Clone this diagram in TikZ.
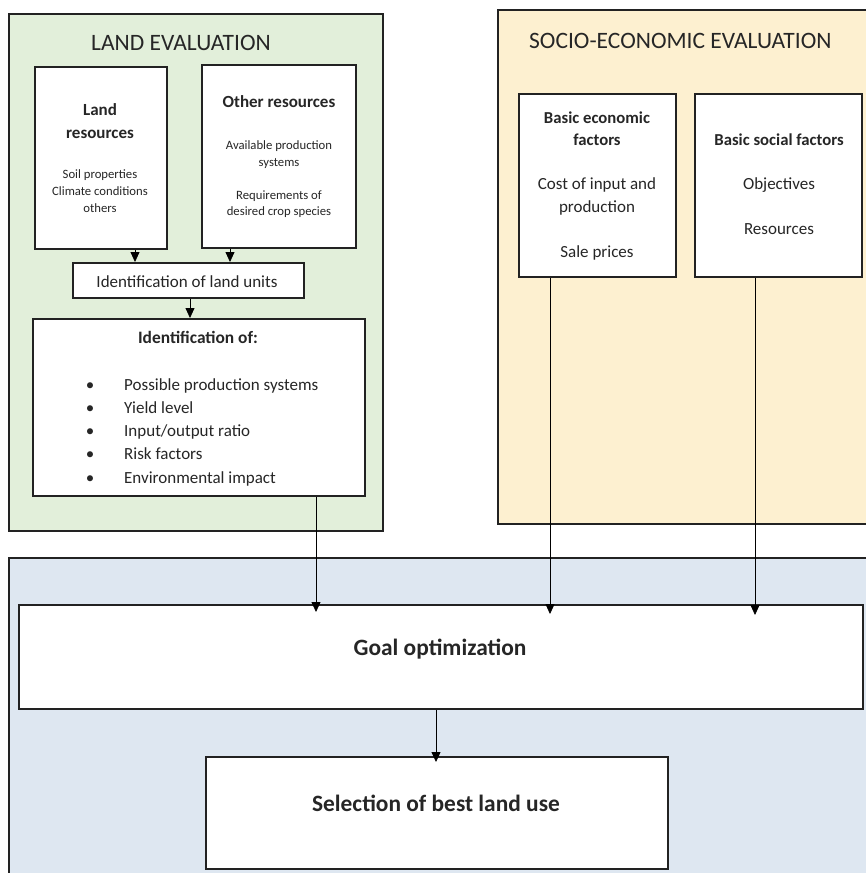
\documentclass[tikz,border=0pt]{standalone}
\usepackage{fontspec}
\setmainfont{Carlito}
\usetikzlibrary{arrows.meta}
\definecolor{landbg}{HTML}{E2EFDA}
\definecolor{sociobg}{HTML}{FDF0D0}
\definecolor{goalbg}{HTML}{DEE7F1}
\definecolor{edge}{HTML}{222222}
\newcommand{\fs}[1]{\fontsize{#1}{#1}\selectfont}
\begin{document}
\begin{tikzpicture}[x=1pt,y=-1pt,
  panel/.style={draw=edge, line width=1.6pt, anchor=north west, inner sep=0pt},
  box/.style={draw=edge, line width=1.8pt, fill=white, anchor=north west, inner sep=0pt},
  txt/.style={anchor=base, inner sep=0pt, text=black!85},
  arr/.style={-{Triangle[length=10pt,width=9pt]}, line width=0.8pt, draw=black}]
\useasboundingbox (0,0) rectangle (865,873);

% background panels
\node[panel, fill=landbg, minimum width=374pt, minimum height=517pt] (landpanel) at (8,13) {};
\node[panel, fill=sociobg, minimum width=400pt, minimum height=514pt] (sociopanel) at (497,9) {};
\node[panel, fill=goalbg, minimum width=880pt, minimum height=340pt] (goalpanel) at (8,557) {};

% panel titles
\node[txt, font=\fs{23.5}] (landtitle) at (181,50) {LAND EVALUATION};
\node[txt, anchor=base west, font=\fs{23.5}] (sociotitle) at (529,48) {SOCIO-ECONOMIC EVALUATION};

% land evaluation boxes
\node[box, minimum width=132pt, minimum height=182pt] (landres) at (34,66) {};
\node[box, minimum width=154pt, minimum height=183pt] (otherres) at (201,64) {};
\node[box, minimum width=231pt, minimum height=35pt] (landunits) at (72,262) {};
\node[box, minimum width=332pt, minimum height=177pt] (ident) at (32,318) {};

\node[txt, font=\bfseries\fs{17}] (lrt1) at (100,115) {Land};
\node[txt, font=\bfseries\fs{17}] (lrt2) at (100,138) {resources};
\node[txt, font=\fs{12.7}] (lr1) at (100,178) {Soil properties};
\node[txt, font=\fs{12.7}] (lr2) at (100,195) {Climate conditions};
\node[txt, font=\fs{12.7}] (lr3) at (100,212) {others};

\node[txt, font=\bfseries\fs{17}] (ort) at (279,107) {Other resources};
\node[txt, font=\fs{12.7}] (or1) at (279,149) {Available production};
\node[txt, font=\fs{12.7}] (or2) at (279,166) {systems};
\node[txt, font=\fs{12.7}] (or3) at (279,199) {Requirements of};
\node[txt, font=\fs{12.7}] (or4) at (279,215) {desired crop species};

\node[txt, font=\fs{17}] (lut) at (187,287) {Identification of land units};

\node[txt, font=\bfseries\fs{17.4}] (idt) at (198,343) {Identification of:};
\foreach \y/\t [count=\i] in {390/{Possible production systems}, 413/{Yield level},
    436/{Input/output ratio}, 459/{Risk factors}, 483/{Environmental impact}} {
  \node[txt, font=\fs{17}] (idb\i) at (90,\y) {\textbullet};
  \node[txt, anchor=base west, font=\fs{17}] (idl\i) at (124,\y) {\t};
}

% socio-economic boxes
\node[box, minimum width=157pt, minimum height=183pt] (econ) at (518,93) {};
\node[box, minimum width=167pt, minimum height=183pt] (social) at (694,93) {};

\node[txt, font=\bfseries\fs{16.7}] (ect1) at (597,123) {Basic economic};
\node[txt, font=\bfseries\fs{16.7}] (ect2) at (597,145) {factors};
\node[txt, font=\fs{17}] (ec1) at (597,189) {Cost of input and};
\node[txt, font=\fs{17}] (ec2) at (597,212) {production};
\node[txt, font=\fs{17}] (ec3) at (597,257) {Sale prices};

\node[txt, font=\bfseries\fs{16.7}] (sot) at (779,145) {Basic social factors};
\node[txt, font=\fs{17}] (so1) at (779,189) {Objectives};
\node[txt, font=\fs{17}] (so2) at (779,234) {Resources};

% goal boxes
\node[box, minimum width=844pt, minimum height=104pt] (goal) at (18,604) {};
\node[box, minimum width=462pt, minimum height=112pt] (select) at (205,756) {};
\node[txt, font=\bfseries\fs{23.4}] (goalt) at (440,655) {Goal optimization};
\node[txt, font=\bfseries\fs{23.4}] (selectt) at (436,811) {Selection of best land use};

% connectors
\draw[arr] (landres.south -| 135,0) -- (landunits.north -| 135,0);
\draw[arr] (otherres.south -| 230,0) -- (landunits.north -| 230,0);
\draw[arr] (landunits.south -| 190,0) -- (ident.north -| 190,0);
\draw[arr, shorten >=-8pt] (ident.south -| 316,0) -- (goal.north -| 316,0);
\draw[arr, shorten >=-10pt] (econ.south -| 550,0) -- (goal.north -| 550,0);
\draw[arr, shorten >=-11pt] (social.south -| 755,0) -- (goal.north -| 755,0);
\draw[arr, shorten >=-6pt] (goal.south -| 436,0) -- (select.north -| 436,0);
\end{tikzpicture}
\end{document}
